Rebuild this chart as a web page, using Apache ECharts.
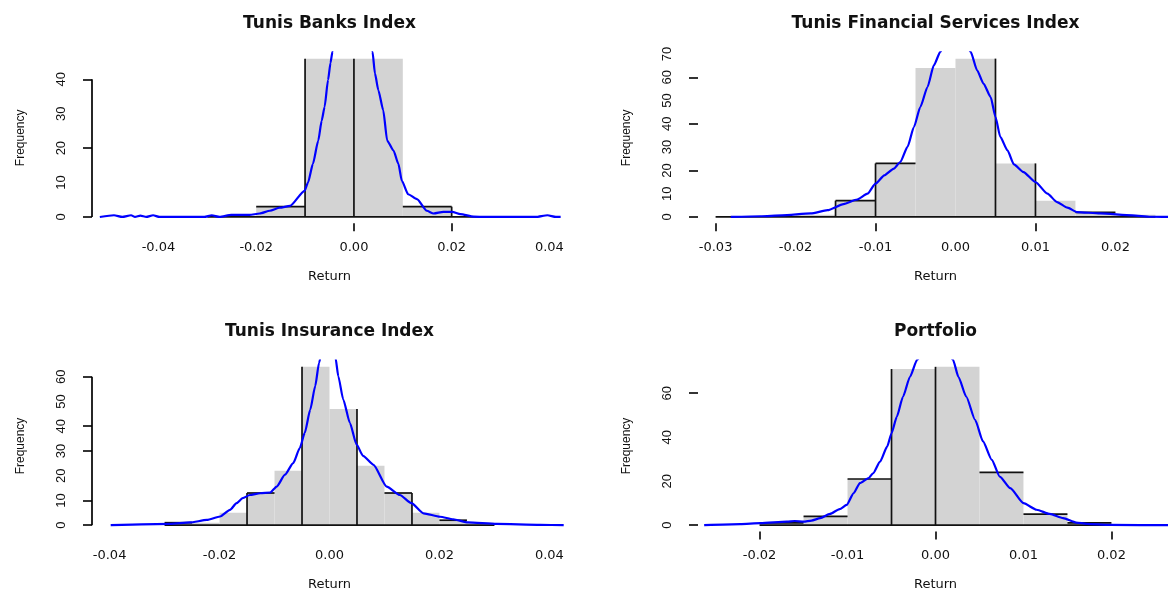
<!DOCTYPE html>
<html>
<head>
<meta charset="utf-8">
<script src="https://cdn.jsdelivr.net/npm/echarts@6/dist/echarts.min.js"></script>
<style>
  html, body { margin: 0; padding: 0; background: #ffffff; }
  #chart { width: 1168px; height: 590px; }
</style>
</head>
<body>
<div id="chart"></div>
<script>
// ---------- Tunis Banks Index ----------
const banksBreaks = [-0.03, -0.02, -0.01, 0, 0.01, 0.02, 0.03];
const banksCounts = [0, 3, 46, 46, 3, 0];
const banksXlim = [-0.05, 0.04];
const banksXTicks = [-0.04, -0.02, 0, 0.02, 0.04];
const banksYTicks = [0, 10, 20, 30, 40];
const banksDensX = [-0.0520, -0.0491, -0.0474, -0.0456, -0.0448, -0.0437, -0.0425, -0.0411, -0.0398, -0.0306,
  -0.0291, -0.0275, -0.0251, -0.0234, -0.0214, -0.0193, -0.0172, -0.0152, -0.0131, -0.0101,
  -0.0094, -0.0084, -0.0073, -0.0066, -0.0060, -0.0053, -0.0048, -0.0044, -0.0030, -0.0015,
  0.0000, 0.0015, 0.0030, 0.0038, 0.0043, 0.0050, 0.0060, 0.0068, 0.0081, 0.0091,
  0.0098, 0.0111, 0.0129, 0.0149, 0.0163, 0.0183, 0.0201, 0.0218, 0.0245, 0.0269,
  0.0372, 0.0396, 0.0413, 0.0423];
const banksDensY = [0, 0.5, 0, 0.5, 0, 0.4, 0, 0.5, 0, 0,
  0.5, 0, 0.6, 0.6, 0.6, 1.0, 1.8, 2.7, 3.2, 7.6,
  10.0, 15.4, 22.2, 28.0, 32.0, 39.8, 44.7, 48.0, 60, 70,
  74, 68, 55, 48.0, 41.7, 36.8, 31.0, 22.2, 19.3, 15.4,
  10.5, 6.6, 5.2, 1.8, 1.0, 1.5, 1.5, 0.8, 0.1, 0,
  0, 0.5, 0, 0];

// ---------- Tunis Financial Services Index ----------
const finBreaks = [-0.03, -0.025, -0.02, -0.015, -0.01, -0.005, 0, 0.005, 0.01, 0.015, 0.02, 0.025];
const finCounts = [0, 0, 1, 7, 23, 64, 68, 23, 7, 2, 1];
const finXlim = [-0.03, 0.025];
const finXTicks = [-0.03, -0.02, -0.01, 0, 0.01, 0.02];
const finYTicks = [0, 10, 20, 30, 40, 50, 60, 70];
const finDensX = [-0.0281, -0.0244, -0.0217, -0.0181, -0.0160, -0.0140, -0.0123, -0.0110, -0.0100, -0.0089,
  -0.0077, -0.0069, -0.0060, -0.0052, -0.0044, -0.0035, -0.0027, -0.0019, -0.0010, 0.0000,
  0.0010, 0.0019, 0.0027, 0.0035, 0.0044, 0.0050, 0.0056, 0.0065, 0.0073, 0.0085,
  0.0100, 0.0115, 0.0127, 0.0140, 0.0152, 0.0181, 0.0221, 0.0244, 0.0275];
const finDensY = [0, 0.3, 0.7, 1.5, 2.9, 5.5, 7.5, 10.0, 14.3, 17.9,
  20.8, 23.6, 30.1, 38.6, 47.2, 55.8, 65.2, 70.9, 77, 79,
  77, 70.9, 63.0, 57.3, 51.5, 43.0, 34.4, 28.6, 22.6, 19.3,
  15.0, 10.0, 6.4, 4.0, 2.1, 1.5, 0.7, 0.1, 0];

// ---------- Tunis Insurance Index ----------
const insBreaks = [-0.03, -0.025, -0.02, -0.015, -0.01, -0.005, 0, 0.005, 0.01, 0.015, 0.02, 0.025, 0.03];
const insCounts = [1, 1, 5, 13, 22, 64, 47, 24, 13, 5, 2, 1];
const insXlim = [-0.04, 0.04];
const insXTicks = [-0.04, -0.02, 0, 0.02, 0.04];
const insYTicks = [0, 10, 20, 30, 40, 50, 60];
const insDensX = [-0.0398, -0.0290, -0.0254, -0.0223, -0.0199, -0.0181, -0.0169, -0.0158, -0.0145, -0.0126,
  -0.0108, -0.0096, -0.0081, -0.0066, -0.0054, -0.0045, -0.0035, -0.0026, -0.0019, -0.0010,
  -0.0003, 0.0005, 0.0011, 0.0016, 0.0025, 0.0037, 0.0049, 0.0061, 0.0080, 0.0104,
  0.0128, 0.0149, 0.0171, 0.0201, 0.0225, 0.0252, 0.0304, 0.0383, 0.0426];
const insDensY = [0, 0.5, 1.1, 2.1, 3.5, 6.2, 8.9, 10.9, 12.2, 12.9,
  13.2, 15.6, 20.4, 25.1, 31.2, 37.3, 46.7, 56.2, 65.6, 75,
  79, 75, 67.6, 60.2, 50.8, 41.4, 32.7, 28.0, 24.4, 15.6,
  12.2, 8.9, 4.8, 3.4, 2.4, 1.1, 0.5, 0.1, 0];

// ---------- Portfolio ----------
const portBreaks = [-0.02, -0.015, -0.01, -0.005, 0, 0.005, 0.01, 0.015, 0.02];
const portCounts = [1, 4, 21, 71, 72, 24, 5, 1];
const portXlim = [-0.025, 0.025];
const portXTicks = [-0.02, -0.01, 0, 0.01, 0.02];
const portYTicks = [0, 20, 40, 60];
const portDensX = [-0.0263, -0.0222, -0.0199, -0.0169, -0.0160, -0.0150, -0.0141, -0.0131, -0.0120, -0.0109,
  -0.0101, -0.0093, -0.0086, -0.0076, -0.0071, -0.0063, -0.0055, -0.0050, -0.0044, -0.0037,
  -0.0029, -0.0021, -0.0010, 0.0000, 0.0010, 0.0020, 0.0026, 0.0035, 0.0045, 0.0054,
  0.0064, 0.0073, 0.0085, 0.0100, 0.0115, 0.0130, 0.0145, 0.0160, 0.0172, 0.0198, 0.0270];
const portDensY = [0, 0.5, 0.9, 1.6, 1.9, 1.6, 2.1, 3.2, 5.1, 7.3,
  9.2, 14.6, 19.1, 21.4, 23.6, 28.9, 35.7, 41.8, 49.3, 58.4,
  67.5, 75.1, 82, 84, 82, 75.1, 67.5, 58.4, 47.9, 38.1,
  29.7, 22.1, 16.8, 10.0, 7.0, 5.1, 3.2, 1.2, 0.6, 0.1, 0];

// Panel descriptions: which bar edges / tops carry a dark outline, which ticks are marked
const panels = [
  { title: 'Tunis Banks Index', breaks: banksBreaks, counts: banksCounts, xlim: banksXlim,
    xTicks: banksXTicks, yTicks: banksYTicks, densX: banksDensX, densY: banksDensY,
    edges: [-0.01, 0, 0.02], tops: [-0.02, 0.01],
    xMarks: [0, 0.02], yMarks: [0, 20, 40], yLine: true },
  { title: 'Tunis Financial Services Index', breaks: finBreaks, counts: finCounts, xlim: finXlim,
    xTicks: finXTicks, yTicks: finYTicks, densX: finDensX, densY: finDensY,
    edges: [-0.015, -0.01, 0.005, 0.01], tops: [-0.015, -0.01, 0.015],
    xMarks: [-0.03, -0.01, 0.01], yMarks: [0, 20, 40, 60], yLine: false },
  { title: 'Tunis Insurance Index', breaks: insBreaks, counts: insCounts, xlim: insXlim,
    xTicks: insXTicks, yTicks: insYTicks, densX: insDensX, densY: insDensY,
    edges: [-0.015, -0.005, 0.005, 0.015], tops: [-0.03, -0.015, 0.01, 0.02],
    xMarks: [], yMarks: [0, 10, 30, 40, 60], yLine: true },
  { title: 'Portfolio', breaks: portBreaks, counts: portCounts, xlim: portXlim,
    xTicks: portXTicks, yTicks: portYTicks, densX: portDensX, densY: portDensY,
    edges: [-0.005, 0], tops: [-0.02, -0.015, -0.01, 0.005, 0.01, 0.015],
    xMarks: [-0.02, 0, 0.02], yMarks: [0, 60], yLine: false }
];

// Plot-region layout (pixels)
const PW = 475, PH = 171;
const boxes = [[92, 52.3], [698, 52.3], [92, 360.5], [698, 360.5]];

function expand(lo, hi) { const d = (hi - lo) * 0.04; return [lo - d, hi + d]; }

function barItems(p) {
  return p.counts.map((c, i) => [p.breaks[i], p.breaks[i + 1], c]);
}

function outlineSegments(p) {
  const n = p.counts.length;
  const b0 = p.breaks[0];
  const step = p.breaks[1] - p.breaks[0];
  const idx = v => Math.round((v - b0) / step);
  const segs = [[p.breaks[0], 0, p.breaks[n], 0]];
  p.edges.forEach(x => {
    const i = idx(x);
    const h = Math.max(i > 0 ? p.counts[i - 1] : 0, i < n ? p.counts[i] : 0);
    segs.push([x, 0, x, h]);
  });
  p.tops.forEach(x => {
    const i = idx(x);
    segs.push([p.breaks[i], p.counts[i], p.breaks[i + 1], p.counts[i]]);
  });
  return segs;
}

const grids = [], xAxes = [], yAxes = [], series = [], graphics = [];
const tickFont = 'DejaVu Sans';

panels.forEach((p, k) => {
  const [left, top] = boxes[k];
  const xr = expand(p.xlim[0], p.xlim[1]);
  const ymax = Math.max(...p.counts);
  const yr = expand(0, ymax);

  grids.push({ left: left, top: top, width: PW, height: PH, containLabel: false, outerBoundsMode: 'none' });

  xAxes.push({
    type: 'value', gridIndex: k, min: xr[0], max: xr[1],
    axisLine: { show: false, onZero: false },
    splitLine: { show: false },
    axisTick: { show: p.xMarks.length > 0, length: 8, customValues: p.xMarks,
      lineStyle: { color: '#000', width: 1.6 } },
    axisLabel: { customValues: p.xTicks, formatter: v => v.toFixed(2), margin: 18,
      fontFamily: tickFont, fontSize: 13, color: '#111' },
    name: 'Return', nameLocation: 'middle', nameGap: 47,
    nameTextStyle: { fontFamily: tickFont, fontSize: 13, color: '#111' }
  });

  yAxes.push({
    type: 'value', gridIndex: k, min: yr[0], max: yr[1],
    axisLine: { show: false, onZero: false },
    splitLine: { show: false },
    axisTick: { show: true, length: 9, customValues: p.yMarks,
      lineStyle: { color: '#000', width: 1.6 } },
    axisLabel: { customValues: p.yTicks, rotate: 90, margin: 24,
      fontFamily: 'Liberation Sans', fontSize: 13, color: '#111' },
    name: 'Frequency', nameLocation: 'middle', nameRotate: 90, nameGap: 65,
    nameTextStyle: { fontFamily: 'Liberation Sans', fontSize: 12, color: '#111' }
  });

  // grey histogram bars
  series.push({
    type: 'custom', xAxisIndex: k, yAxisIndex: k, clip: true, z: 2,
    data: barItems(p),
    encode: { x: [0, 1], y: 2 },
    renderItem: (params, api) => {
      const a = api.coord([api.value(0), 0]);
      const b = api.coord([api.value(1), api.value(2)]);
      return { type: 'rect', shape: { x: a[0], y: b[1], width: b[0] - a[0], height: a[1] - b[1] },
        style: { fill: '#d3d3d3' } };
    }
  });

  // dark bar outlines
  series.push({
    type: 'custom', xAxisIndex: k, yAxisIndex: k, clip: false, z: 3,
    data: outlineSegments(p),
    encode: { x: [0, 2], y: [1, 3] },
    renderItem: (params, api) => {
      const a = api.coord([api.value(0), api.value(1)]);
      const b = api.coord([api.value(2), api.value(3)]);
      return { type: 'line', shape: { x1: a[0], y1: a[1], x2: b[0], y2: b[1] },
        style: { stroke: '#111', lineWidth: 1.7 } };
    }
  });

  // y axis spine from 0 to the last labelled tick
  if (p.yLine) {
    series.push({
      type: 'custom', xAxisIndex: k, yAxisIndex: k, clip: false, z: 3,
      data: [[xr[0], 0, xr[0], p.yTicks[p.yTicks.length - 1]]],
      encode: { x: [0, 2], y: [1, 3] },
      renderItem: (params, api) => {
        const a = api.coord([api.value(0), api.value(1)]);
        const b = api.coord([api.value(2), api.value(3)]);
        return { type: 'line', shape: { x1: a[0], y1: a[1], x2: b[0], y2: b[1] },
          style: { stroke: '#000', lineWidth: 1.7 } };
      }
    });
  }

  // kernel density curve scaled to counts
  series.push({
    type: 'line', xAxisIndex: k, yAxisIndex: k, z: 5,
    data: p.densX.map((x, i) => [x, p.densY[i]]),
    showSymbol: false, symbol: 'none', smooth: 0.2, smoothMonotone: 'x', clip: true,
    lineStyle: { color: '#0000ff', width: 2.2 }
  });

  graphics.push({
    type: 'text', x: left + PW / 2, y: top - 29, z: 10,
    style: { text: p.title, font: 'bold 17px "DejaVu Sans"', fill: '#111',
      align: 'center', verticalAlign: 'middle', textAlign: 'center', textVerticalAlign: 'middle' }
  });
});

const chart = echarts.init(document.getElementById('chart'), null, { renderer: 'canvas' });
chart.setOption({
  animation: false,
  backgroundColor: '#ffffff',
  grid: grids,
  xAxis: xAxes,
  yAxis: yAxes,
  series: series,
  graphic: graphics
});
</script>
</body>
</html>
